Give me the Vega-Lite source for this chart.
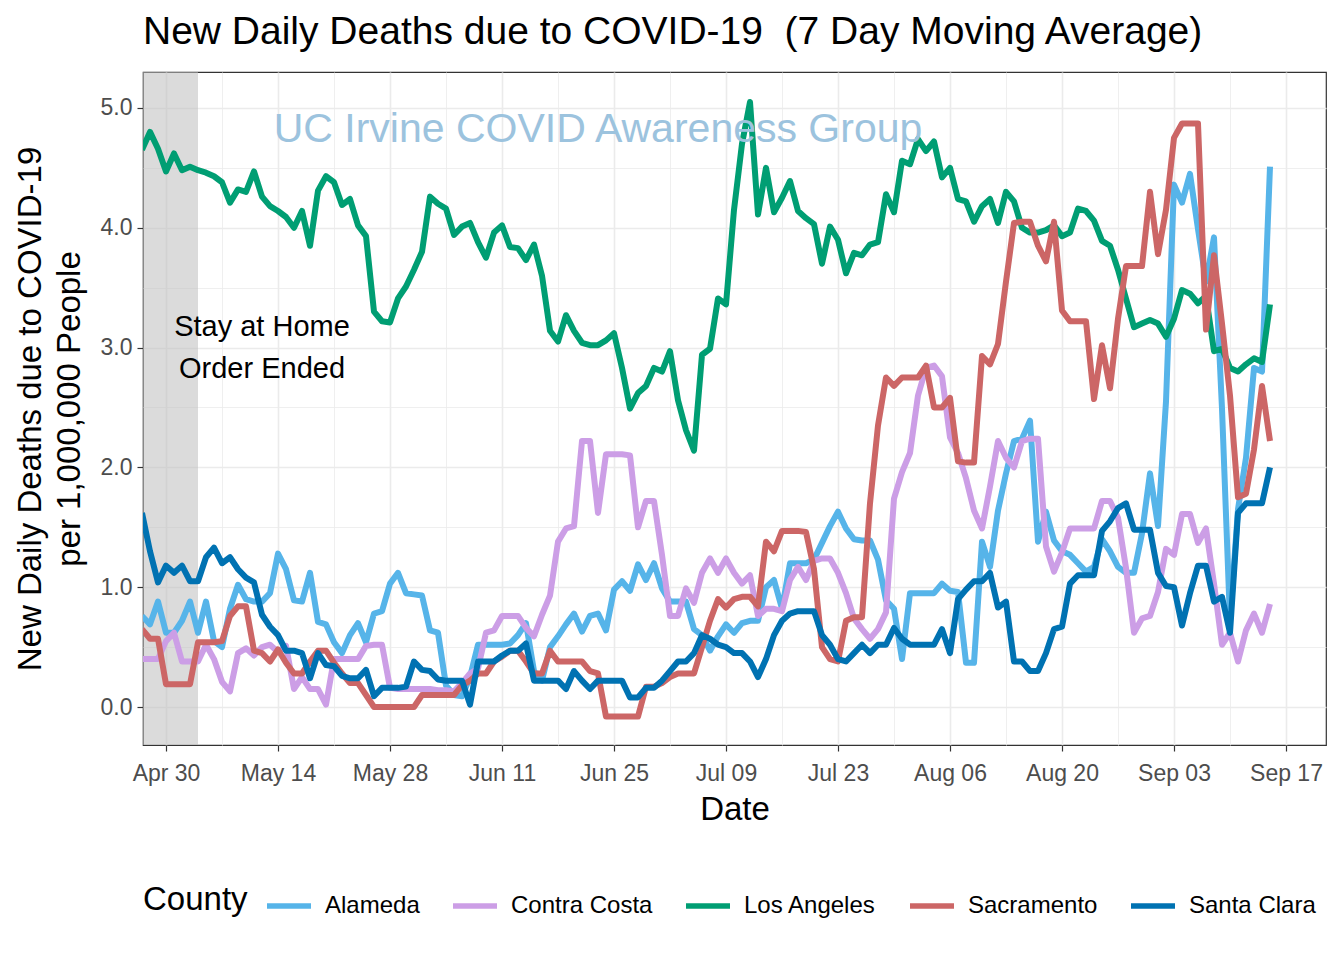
{
"$schema":"https://vega.github.io/schema/vega-lite/v6.json",
"autosize":"none",
"width":1183,"height":673,
"padding":{"left":143,"top":72,"right":18,"bottom":215},
"background":"#ffffff",
"title":{"text":"New Daily Deaths due to COVID-19 \u00a0(7 Day Moving Average)","anchor":"start","frame":"group","fontSize":39,"fontWeight":"normal","font":"Liberation Sans","color":"#000000","offset":20},
"datasets":{"series":[
{"d":"2020-04-27","Alameda":0.76,"Contra Costa":0.40,"Los Angeles":4.65,"Sacramento":0.65,"Santa Clara":1.62},
{"d":"2020-04-28","Alameda":0.69,"Contra Costa":0.40,"Los Angeles":4.80,"Sacramento":0.57,"Santa Clara":1.30},
{"d":"2020-04-29","Alameda":0.88,"Contra Costa":0.40,"Los Angeles":4.66,"Sacramento":0.57,"Santa Clara":1.04},
{"d":"2020-04-30","Alameda":0.62,"Contra Costa":0.55,"Los Angeles":4.47,"Sacramento":0.19,"Santa Clara":1.18},
{"d":"2020-05-01","Alameda":0.62,"Contra Costa":0.62,"Los Angeles":4.62,"Sacramento":0.19,"Santa Clara":1.12},
{"d":"2020-05-02","Alameda":0.72,"Contra Costa":0.38,"Los Angeles":4.48,"Sacramento":0.19,"Santa Clara":1.18},
{"d":"2020-05-03","Alameda":0.88,"Contra Costa":0.38,"Los Angeles":4.51,"Sacramento":0.19,"Santa Clara":1.05},
{"d":"2020-05-04","Alameda":0.62,"Contra Costa":0.38,"Los Angeles":4.48,"Sacramento":0.54,"Santa Clara":1.05},
{"d":"2020-05-05","Alameda":0.88,"Contra Costa":0.52,"Los Angeles":4.46,"Sacramento":0.54,"Santa Clara":1.25},
{"d":"2020-05-06","Alameda":0.55,"Contra Costa":0.40,"Los Angeles":4.43,"Sacramento":0.54,"Santa Clara":1.33},
{"d":"2020-05-07","Alameda":0.50,"Contra Costa":0.21,"Los Angeles":4.38,"Sacramento":0.55,"Santa Clara":1.20},
{"d":"2020-05-08","Alameda":0.82,"Contra Costa":0.13,"Los Angeles":4.21,"Sacramento":0.76,"Santa Clara":1.25},
{"d":"2020-05-09","Alameda":1.02,"Contra Costa":0.45,"Los Angeles":4.32,"Sacramento":0.84,"Santa Clara":1.15},
{"d":"2020-05-10","Alameda":0.90,"Contra Costa":0.49,"Los Angeles":4.30,"Sacramento":0.84,"Santa Clara":1.08},
{"d":"2020-05-11","Alameda":0.88,"Contra Costa":0.43,"Los Angeles":4.47,"Sacramento":0.47,"Santa Clara":1.04},
{"d":"2020-05-12","Alameda":0.88,"Contra Costa":0.50,"Los Angeles":4.26,"Sacramento":0.45,"Santa Clara":0.77},
{"d":"2020-05-13","Alameda":0.95,"Contra Costa":0.52,"Los Angeles":4.18,"Sacramento":0.38,"Santa Clara":0.67},
{"d":"2020-05-14","Alameda":1.28,"Contra Costa":0.46,"Los Angeles":4.14,"Sacramento":0.48,"Santa Clara":0.60},
{"d":"2020-05-15","Alameda":1.15,"Contra Costa":0.51,"Los Angeles":4.09,"Sacramento":0.37,"Santa Clara":0.47},
{"d":"2020-05-16","Alameda":0.89,"Contra Costa":0.15,"Los Angeles":4.00,"Sacramento":0.28,"Santa Clara":0.47},
{"d":"2020-05-17","Alameda":0.88,"Contra Costa":0.25,"Los Angeles":4.14,"Sacramento":0.28,"Santa Clara":0.45},
{"d":"2020-05-18","Alameda":1.12,"Contra Costa":0.15,"Los Angeles":3.85,"Sacramento":0.38,"Santa Clara":0.24},
{"d":"2020-05-19","Alameda":0.71,"Contra Costa":0.15,"Los Angeles":4.31,"Sacramento":0.47,"Santa Clara":0.45},
{"d":"2020-05-20","Alameda":0.69,"Contra Costa":0.02,"Los Angeles":4.43,"Sacramento":0.47,"Santa Clara":0.35},
{"d":"2020-05-21","Alameda":0.54,"Contra Costa":0.40,"Los Angeles":4.38,"Sacramento":0.37,"Santa Clara":0.34},
{"d":"2020-05-22","Alameda":0.45,"Contra Costa":0.40,"Los Angeles":4.19,"Sacramento":0.28,"Santa Clara":0.26},
{"d":"2020-05-23","Alameda":0.60,"Contra Costa":0.40,"Los Angeles":4.24,"Sacramento":0.20,"Santa Clara":0.24},
{"d":"2020-05-24","Alameda":0.70,"Contra Costa":0.40,"Los Angeles":4.02,"Sacramento":0.20,"Santa Clara":0.24},
{"d":"2020-05-25","Alameda":0.54,"Contra Costa":0.51,"Los Angeles":3.93,"Sacramento":0.10,"Santa Clara":0.31},
{"d":"2020-05-26","Alameda":0.78,"Contra Costa":0.52,"Los Angeles":3.30,"Sacramento":0.00,"Santa Clara":0.09},
{"d":"2020-05-27","Alameda":0.80,"Contra Costa":0.52,"Los Angeles":3.22,"Sacramento":0.00,"Santa Clara":0.16},
{"d":"2020-05-28","Alameda":1.03,"Contra Costa":0.16,"Los Angeles":3.21,"Sacramento":0.00,"Santa Clara":0.16},
{"d":"2020-05-29","Alameda":1.12,"Contra Costa":0.15,"Los Angeles":3.41,"Sacramento":0.00,"Santa Clara":0.16},
{"d":"2020-05-30","Alameda":0.95,"Contra Costa":0.15,"Los Angeles":3.51,"Sacramento":0.00,"Santa Clara":0.17},
{"d":"2020-05-31","Alameda":0.94,"Contra Costa":0.15,"Los Angeles":3.65,"Sacramento":0.00,"Santa Clara":0.38},
{"d":"2020-06-01","Alameda":0.93,"Contra Costa":0.15,"Los Angeles":3.80,"Sacramento":0.10,"Santa Clara":0.31},
{"d":"2020-06-02","Alameda":0.64,"Contra Costa":0.15,"Los Angeles":4.26,"Sacramento":0.10,"Santa Clara":0.30},
{"d":"2020-06-03","Alameda":0.62,"Contra Costa":0.14,"Los Angeles":4.20,"Sacramento":0.10,"Santa Clara":0.23},
{"d":"2020-06-04","Alameda":0.18,"Contra Costa":0.14,"Los Angeles":4.16,"Sacramento":0.10,"Santa Clara":0.22},
{"d":"2020-06-05","Alameda":0.10,"Contra Costa":0.13,"Los Angeles":3.94,"Sacramento":0.10,"Santa Clara":0.22},
{"d":"2020-06-06","Alameda":0.09,"Contra Costa":0.20,"Los Angeles":4.01,"Sacramento":0.18,"Santa Clara":0.22},
{"d":"2020-06-07","Alameda":0.25,"Contra Costa":0.28,"Los Angeles":4.04,"Sacramento":0.22,"Santa Clara":0.02},
{"d":"2020-06-08","Alameda":0.52,"Contra Costa":0.32,"Los Angeles":3.88,"Sacramento":0.28,"Santa Clara":0.38},
{"d":"2020-06-09","Alameda":0.52,"Contra Costa":0.62,"Los Angeles":3.75,"Sacramento":0.28,"Santa Clara":0.38},
{"d":"2020-06-10","Alameda":0.52,"Contra Costa":0.64,"Los Angeles":3.96,"Sacramento":0.38,"Santa Clara":0.38},
{"d":"2020-06-11","Alameda":0.52,"Contra Costa":0.76,"Los Angeles":4.02,"Sacramento":0.42,"Santa Clara":0.43},
{"d":"2020-06-12","Alameda":0.53,"Contra Costa":0.76,"Los Angeles":3.84,"Sacramento":0.47,"Santa Clara":0.47},
{"d":"2020-06-13","Alameda":0.60,"Contra Costa":0.76,"Los Angeles":3.83,"Sacramento":0.47,"Santa Clara":0.47},
{"d":"2020-06-14","Alameda":0.70,"Contra Costa":0.66,"Los Angeles":3.73,"Sacramento":0.38,"Santa Clara":0.53},
{"d":"2020-06-15","Alameda":0.30,"Contra Costa":0.59,"Los Angeles":3.86,"Sacramento":0.28,"Santa Clara":0.22},
{"d":"2020-06-16","Alameda":0.22,"Contra Costa":0.77,"Los Angeles":3.60,"Sacramento":0.28,"Santa Clara":0.22},
{"d":"2020-06-17","Alameda":0.50,"Contra Costa":0.93,"Los Angeles":3.14,"Sacramento":0.47,"Santa Clara":0.22},
{"d":"2020-06-18","Alameda":0.59,"Contra Costa":1.38,"Los Angeles":3.05,"Sacramento":0.38,"Santa Clara":0.22},
{"d":"2020-06-19","Alameda":0.69,"Contra Costa":1.49,"Los Angeles":3.27,"Sacramento":0.38,"Santa Clara":0.15},
{"d":"2020-06-20","Alameda":0.78,"Contra Costa":1.51,"Los Angeles":3.14,"Sacramento":0.38,"Santa Clara":0.30},
{"d":"2020-06-21","Alameda":0.63,"Contra Costa":2.22,"Los Angeles":3.04,"Sacramento":0.38,"Santa Clara":0.22},
{"d":"2020-06-22","Alameda":0.76,"Contra Costa":2.22,"Los Angeles":3.02,"Sacramento":0.30,"Santa Clara":0.15},
{"d":"2020-06-23","Alameda":0.78,"Contra Costa":1.62,"Los Angeles":3.02,"Sacramento":0.28,"Santa Clara":0.22},
{"d":"2020-06-24","Alameda":0.64,"Contra Costa":2.11,"Los Angeles":3.06,"Sacramento":-0.08,"Santa Clara":0.22},
{"d":"2020-06-25","Alameda":0.98,"Contra Costa":2.11,"Los Angeles":3.12,"Sacramento":-0.08,"Santa Clara":0.22},
{"d":"2020-06-26","Alameda":1.05,"Contra Costa":2.11,"Los Angeles":2.83,"Sacramento":-0.08,"Santa Clara":0.22},
{"d":"2020-06-27","Alameda":0.97,"Contra Costa":2.10,"Los Angeles":2.49,"Sacramento":-0.08,"Santa Clara":0.08},
{"d":"2020-06-28","Alameda":1.19,"Contra Costa":1.50,"Los Angeles":2.62,"Sacramento":-0.08,"Santa Clara":0.08},
{"d":"2020-06-29","Alameda":1.06,"Contra Costa":1.72,"Los Angeles":2.68,"Sacramento":0.17,"Santa Clara":0.16},
{"d":"2020-06-30","Alameda":1.20,"Contra Costa":1.72,"Los Angeles":2.83,"Sacramento":0.17,"Santa Clara":0.16},
{"d":"2020-07-01","Alameda":0.99,"Contra Costa":1.27,"Los Angeles":2.80,"Sacramento":0.20,"Santa Clara":0.22},
{"d":"2020-07-02","Alameda":0.88,"Contra Costa":0.76,"Los Angeles":2.97,"Sacramento":0.25,"Santa Clara":0.30},
{"d":"2020-07-03","Alameda":0.88,"Contra Costa":0.76,"Los Angeles":2.56,"Sacramento":0.28,"Santa Clara":0.38},
{"d":"2020-07-04","Alameda":0.88,"Contra Costa":0.99,"Los Angeles":2.31,"Sacramento":0.28,"Santa Clara":0.38},
{"d":"2020-07-05","Alameda":0.65,"Contra Costa":0.87,"Los Angeles":2.14,"Sacramento":0.28,"Santa Clara":0.45},
{"d":"2020-07-06","Alameda":0.60,"Contra Costa":1.12,"Los Angeles":2.94,"Sacramento":0.50,"Santa Clara":0.60},
{"d":"2020-07-07","Alameda":0.47,"Contra Costa":1.24,"Los Angeles":2.99,"Sacramento":0.72,"Santa Clara":0.57},
{"d":"2020-07-08","Alameda":0.59,"Contra Costa":1.12,"Los Angeles":3.41,"Sacramento":0.90,"Santa Clara":0.52},
{"d":"2020-07-09","Alameda":0.69,"Contra Costa":1.24,"Los Angeles":3.36,"Sacramento":0.83,"Santa Clara":0.50},
{"d":"2020-07-10","Alameda":0.62,"Contra Costa":1.12,"Los Angeles":4.15,"Sacramento":0.90,"Santa Clara":0.45},
{"d":"2020-07-11","Alameda":0.70,"Contra Costa":1.03,"Los Angeles":4.70,"Sacramento":0.92,"Santa Clara":0.45},
{"d":"2020-07-12","Alameda":0.72,"Contra Costa":1.10,"Los Angeles":5.05,"Sacramento":0.92,"Santa Clara":0.38},
{"d":"2020-07-13","Alameda":0.72,"Contra Costa":0.76,"Los Angeles":4.11,"Sacramento":0.84,"Santa Clara":0.25},
{"d":"2020-07-14","Alameda":1.00,"Contra Costa":0.82,"Los Angeles":4.50,"Sacramento":1.38,"Santa Clara":0.40},
{"d":"2020-07-15","Alameda":1.06,"Contra Costa":0.82,"Los Angeles":4.13,"Sacramento":1.30,"Santa Clara":0.60},
{"d":"2020-07-16","Alameda":0.82,"Contra Costa":0.80,"Los Angeles":4.25,"Sacramento":1.47,"Santa Clara":0.72},
{"d":"2020-07-17","Alameda":1.20,"Contra Costa":1.06,"Los Angeles":4.39,"Sacramento":1.47,"Santa Clara":0.78},
{"d":"2020-07-18","Alameda":1.20,"Contra Costa":1.17,"Los Angeles":4.14,"Sacramento":1.47,"Santa Clara":0.80},
{"d":"2020-07-19","Alameda":1.20,"Contra Costa":1.06,"Los Angeles":4.08,"Sacramento":1.46,"Santa Clara":0.80},
{"d":"2020-07-20","Alameda":1.23,"Contra Costa":1.22,"Los Angeles":4.03,"Sacramento":1.15,"Santa Clara":0.80},
{"d":"2020-07-21","Alameda":1.37,"Contra Costa":1.24,"Los Angeles":3.70,"Sacramento":0.50,"Santa Clara":0.60},
{"d":"2020-07-22","Alameda":1.51,"Contra Costa":1.24,"Los Angeles":4.01,"Sacramento":0.40,"Santa Clara":0.52},
{"d":"2020-07-23","Alameda":1.63,"Contra Costa":1.12,"Los Angeles":3.90,"Sacramento":0.38,"Santa Clara":0.40},
{"d":"2020-07-24","Alameda":1.49,"Contra Costa":0.95,"Los Angeles":3.62,"Sacramento":0.72,"Santa Clara":0.38},
{"d":"2020-07-25","Alameda":1.40,"Contra Costa":0.74,"Los Angeles":3.79,"Sacramento":0.75,"Santa Clara":0.45},
{"d":"2020-07-26","Alameda":1.39,"Contra Costa":0.65,"Los Angeles":3.77,"Sacramento":0.75,"Santa Clara":0.52},
{"d":"2020-07-27","Alameda":1.39,"Contra Costa":0.57,"Los Angeles":3.86,"Sacramento":1.70,"Santa Clara":0.45},
{"d":"2020-07-28","Alameda":1.23,"Contra Costa":0.65,"Los Angeles":3.88,"Sacramento":2.35,"Santa Clara":0.52},
{"d":"2020-07-29","Alameda":0.89,"Contra Costa":0.79,"Los Angeles":4.28,"Sacramento":2.75,"Santa Clara":0.52},
{"d":"2020-07-30","Alameda":0.82,"Contra Costa":1.74,"Los Angeles":4.13,"Sacramento":2.68,"Santa Clara":0.66},
{"d":"2020-07-31","Alameda":0.40,"Contra Costa":1.96,"Los Angeles":4.56,"Sacramento":2.75,"Santa Clara":0.57},
{"d":"2020-08-01","Alameda":0.95,"Contra Costa":2.12,"Los Angeles":4.53,"Sacramento":2.75,"Santa Clara":0.52},
{"d":"2020-08-02","Alameda":0.95,"Contra Costa":2.60,"Los Angeles":4.74,"Sacramento":2.75,"Santa Clara":0.52},
{"d":"2020-08-03","Alameda":0.95,"Contra Costa":2.83,"Los Angeles":4.64,"Sacramento":2.85,"Santa Clara":0.52},
{"d":"2020-08-04","Alameda":0.95,"Contra Costa":2.85,"Los Angeles":4.72,"Sacramento":2.50,"Santa Clara":0.52},
{"d":"2020-08-05","Alameda":1.03,"Contra Costa":2.76,"Los Angeles":4.42,"Sacramento":2.50,"Santa Clara":0.65},
{"d":"2020-08-06","Alameda":0.97,"Contra Costa":2.25,"Los Angeles":4.50,"Sacramento":2.58,"Santa Clara":0.45},
{"d":"2020-08-07","Alameda":0.96,"Contra Costa":2.12,"Los Angeles":4.24,"Sacramento":2.05,"Santa Clara":0.90},
{"d":"2020-08-08","Alameda":0.37,"Contra Costa":1.91,"Los Angeles":4.22,"Sacramento":2.04,"Santa Clara":0.98},
{"d":"2020-08-09","Alameda":0.37,"Contra Costa":1.64,"Los Angeles":4.05,"Sacramento":2.04,"Santa Clara":1.05},
{"d":"2020-08-10","Alameda":1.38,"Contra Costa":1.49,"Los Angeles":4.18,"Sacramento":2.93,"Santa Clara":1.05},
{"d":"2020-08-11","Alameda":1.17,"Contra Costa":1.84,"Los Angeles":4.24,"Sacramento":2.86,"Santa Clara":1.12},
{"d":"2020-08-12","Alameda":1.64,"Contra Costa":2.22,"Los Angeles":4.04,"Sacramento":3.03,"Santa Clara":0.83},
{"d":"2020-08-13","Alameda":1.95,"Contra Costa":2.08,"Los Angeles":4.30,"Sacramento":3.55,"Santa Clara":0.88},
{"d":"2020-08-14","Alameda":2.22,"Contra Costa":2.00,"Los Angeles":4.22,"Sacramento":4.04,"Santa Clara":0.38},
{"d":"2020-08-15","Alameda":2.24,"Contra Costa":2.22,"Los Angeles":4.00,"Sacramento":4.05,"Santa Clara":0.38},
{"d":"2020-08-16","Alameda":2.39,"Contra Costa":2.24,"Los Angeles":3.96,"Sacramento":4.05,"Santa Clara":0.30},
{"d":"2020-08-17","Alameda":1.38,"Contra Costa":2.24,"Los Angeles":3.96,"Sacramento":3.85,"Santa Clara":0.30},
{"d":"2020-08-18","Alameda":1.63,"Contra Costa":1.34,"Los Angeles":3.98,"Sacramento":3.72,"Santa Clara":0.45},
{"d":"2020-08-19","Alameda":1.39,"Contra Costa":1.13,"Los Angeles":4.02,"Sacramento":4.05,"Santa Clara":0.65},
{"d":"2020-08-20","Alameda":1.30,"Contra Costa":1.29,"Los Angeles":3.93,"Sacramento":3.31,"Santa Clara":0.67},
{"d":"2020-08-21","Alameda":1.27,"Contra Costa":1.49,"Los Angeles":3.96,"Sacramento":3.22,"Santa Clara":1.03},
{"d":"2020-08-22","Alameda":1.20,"Contra Costa":1.49,"Los Angeles":4.16,"Sacramento":3.22,"Santa Clara":1.10},
{"d":"2020-08-23","Alameda":1.13,"Contra Costa":1.49,"Los Angeles":4.14,"Sacramento":3.22,"Santa Clara":1.10},
{"d":"2020-08-24","Alameda":1.17,"Contra Costa":1.49,"Los Angeles":4.06,"Sacramento":2.57,"Santa Clara":1.10},
{"d":"2020-08-25","Alameda":1.40,"Contra Costa":1.72,"Los Angeles":3.89,"Sacramento":3.02,"Santa Clara":1.47},
{"d":"2020-08-26","Alameda":1.30,"Contra Costa":1.72,"Los Angeles":3.85,"Sacramento":2.66,"Santa Clara":1.55},
{"d":"2020-08-27","Alameda":1.17,"Contra Costa":1.58,"Los Angeles":3.65,"Sacramento":3.24,"Santa Clara":1.66},
{"d":"2020-08-28","Alameda":1.12,"Contra Costa":1.16,"Los Angeles":3.41,"Sacramento":3.68,"Santa Clara":1.70},
{"d":"2020-08-29","Alameda":1.12,"Contra Costa":0.62,"Los Angeles":3.17,"Sacramento":3.68,"Santa Clara":1.48},
{"d":"2020-08-30","Alameda":1.45,"Contra Costa":0.74,"Los Angeles":3.20,"Sacramento":3.68,"Santa Clara":1.48},
{"d":"2020-08-31","Alameda":1.95,"Contra Costa":0.76,"Los Angeles":3.23,"Sacramento":4.30,"Santa Clara":1.48},
{"d":"2020-09-01","Alameda":1.51,"Contra Costa":0.96,"Los Angeles":3.20,"Sacramento":3.78,"Santa Clara":1.12},
{"d":"2020-09-02","Alameda":2.55,"Contra Costa":1.32,"Los Angeles":3.09,"Sacramento":4.15,"Santa Clara":1.01},
{"d":"2020-09-03","Alameda":4.36,"Contra Costa":1.27,"Los Angeles":3.24,"Sacramento":4.75,"Santa Clara":1.00},
{"d":"2020-09-04","Alameda":4.21,"Contra Costa":1.61,"Los Angeles":3.48,"Sacramento":4.87,"Santa Clara":0.68},
{"d":"2020-09-05","Alameda":4.45,"Contra Costa":1.61,"Los Angeles":3.45,"Sacramento":4.87,"Santa Clara":0.95},
{"d":"2020-09-06","Alameda":3.99,"Contra Costa":1.37,"Los Angeles":3.37,"Sacramento":4.87,"Santa Clara":1.18},
{"d":"2020-09-07","Alameda":3.55,"Contra Costa":1.49,"Los Angeles":3.43,"Sacramento":3.15,"Santa Clara":1.18},
{"d":"2020-09-08","Alameda":3.92,"Contra Costa":1.03,"Los Angeles":2.97,"Sacramento":3.77,"Santa Clara":0.88},
{"d":"2020-09-09","Alameda":2.49,"Contra Costa":0.52,"Los Angeles":2.99,"Sacramento":3.20,"Santa Clara":0.92},
{"d":"2020-09-10","Alameda":0.72,"Contra Costa":0.62,"Los Angeles":2.83,"Sacramento":2.60,"Santa Clara":0.62},
{"d":"2020-09-11","Alameda":1.65,"Contra Costa":0.38,"Los Angeles":2.80,"Sacramento":1.75,"Santa Clara":1.62},
{"d":"2020-09-12","Alameda":2.08,"Contra Costa":0.64,"Los Angeles":2.86,"Sacramento":1.78,"Santa Clara":1.70},
{"d":"2020-09-13","Alameda":2.83,"Contra Costa":0.78,"Los Angeles":2.91,"Sacramento":2.15,"Santa Clara":1.70},
{"d":"2020-09-14","Alameda":2.80,"Contra Costa":0.62,"Los Angeles":2.88,"Sacramento":2.68,"Santa Clara":1.70},
{"d":"2020-09-15","Alameda":4.51,"Contra Costa":0.86,"Los Angeles":3.36,"Sacramento":2.22,"Santa Clara":2.00}
]},
"layer":[
{
"data":{"values":[{"start":"2020-04-20","end":"2020-05-04"}]},
"mark":{"type":"rect","color":"#BEBEBE","opacity":0.55,"clip":true},
"encoding":{
"x":{"field":"start","type":"temporal","scale":{"type":"utc","domain":[{"year":2020,"month":4,"date":27,"hours":3,"utc":true},{"year":2020,"month":9,"date":22,"utc":true}]},
"axis":{"orient":"bottom","values":[{"year":2020,"month":5,"date":7,"utc":true},{"year":2020,"month":5,"date":21,"utc":true},{"year":2020,"month":6,"date":4,"utc":true},{"year":2020,"month":6,"date":18,"utc":true},{"year":2020,"month":7,"date":2,"utc":true},{"year":2020,"month":7,"date":16,"utc":true},{"year":2020,"month":7,"date":30,"utc":true},{"year":2020,"month":8,"date":13,"utc":true},{"year":2020,"month":8,"date":27,"utc":true},{"year":2020,"month":9,"date":10,"utc":true}],"labels":false,"ticks":false,"domain":false,"title":null,"grid":true,"gridColor":"#EBEBEB","gridWidth":0.8}},
"x2":{"field":"end"},
"y":{"datum":-2,"type":"quantitative","scale":{"domain":[-0.317,5.3],"nice":false,"zero":false},
"axis":{"orient":"left","values":[0.5,1.5,2.5,3.5,4.5],"labels":false,"ticks":false,"domain":false,"title":null,"grid":true,"gridColor":"#EBEBEB","gridWidth":0.8}},
"y2":{"datum":8}
}
},
{
"data":{"name":"series"},
"transform":[{"fold":["Alameda","Contra Costa","Los Angeles","Sacramento","Santa Clara"],"as":["County","v"]}],
"mark":{"type":"line","strokeWidth":6,"strokeJoin":"round","strokeCap":"butt","clip":true},
"encoding":{
"x":{"field":"d","type":"temporal","scale":{"type":"utc","domain":[{"year":2020,"month":4,"date":27,"hours":3,"utc":true},{"year":2020,"month":9,"date":22,"utc":true}]},
"axis":{"orient":"bottom","title":"Date","format":"%b %d","values":[{"year":2020,"month":4,"date":30,"utc":true},{"year":2020,"month":5,"date":14,"utc":true},{"year":2020,"month":5,"date":28,"utc":true},{"year":2020,"month":6,"date":11,"utc":true},{"year":2020,"month":6,"date":25,"utc":true},{"year":2020,"month":7,"date":9,"utc":true},{"year":2020,"month":7,"date":23,"utc":true},{"year":2020,"month":8,"date":6,"utc":true},{"year":2020,"month":8,"date":20,"utc":true},{"year":2020,"month":9,"date":3,"utc":true},{"year":2020,"month":9,"date":17,"utc":true}],"grid":true,"gridColor":"#EBEBEB","gridWidth":1.6,"labelPadding":11,"titlePadding":8}},
"y":{"field":"v","type":"quantitative","scale":{"domain":[-0.317,5.3],"nice":false,"zero":false},
"axis":{"orient":"left","title":["New Daily Deaths due to COVID-19","per 1,000,000 People"],"titleLineHeight":39,"values":[0,1,2,3,4,5],"format":".1f","grid":true,"gridColor":"#EBEBEB","gridWidth":1.6,"labelPadding":5,"titlePadding":14}},
"color":{"field":"County","type":"nominal","scale":{"domain":["Alameda","Contra Costa","Los Angeles","Sacramento","Santa Clara"],"range":["#56B4E9","#CC9EE6","#009E73","#CC6666","#0072B2"]},
"legend":{"orient":"none","legendX":0,"legendY":809,"direction":"horizontal","title":"County","titleOrient":"left"}}
}
},
{
"data":{"values":[{"x":"2020-05-12","y":3.17,"t":"Stay at Home"},{"x":"2020-05-12","y":2.82,"t":"Order Ended"}]},
"mark":{"type":"text","fontSize":29,"font":"Liberation Sans","color":"#000000","baseline":"middle","align":"center"},
"encoding":{
"x":{"field":"x","type":"temporal","scale":{"type":"utc","domain":[{"year":2020,"month":4,"date":27,"hours":3,"utc":true},{"year":2020,"month":9,"date":22,"utc":true}]},"axis":null},
"y":{"field":"y","type":"quantitative","scale":{"domain":[-0.317,5.3],"nice":false,"zero":false},"axis":null},
"text":{"field":"t"}
}
},
{
"data":{"values":[{"x":"2020-06-23","y":4.82,"t":"UC Irvine COVID Awareness Group"}]},
"mark":{"type":"text","fontSize":41,"font":"Liberation Sans","color":"#9CC3DE","baseline":"middle","align":"center"},
"encoding":{
"x":{"field":"x","type":"temporal","scale":{"type":"utc","domain":[{"year":2020,"month":4,"date":27,"hours":3,"utc":true},{"year":2020,"month":9,"date":22,"utc":true}]},"axis":null},
"y":{"field":"y","type":"quantitative","scale":{"domain":[-0.317,5.3],"nice":false,"zero":false},"axis":null},
"text":{"field":"t"}
}
}
],
"resolve":{"axis":{"x":"independent","y":"independent"}},
"config":{
"font":"Liberation Sans",
"view":{"stroke":"#333333","strokeWidth":1.2},
"axis":{"labelFont":"Liberation Sans","labelFontSize":23,"labelColor":"#4D4D4D","tickColor":"#333333","tickSize":6,"tickWidth":1.2,"domain":false,"titleFont":"Liberation Sans","titleFontSize":33,"titleFontWeight":"normal","titleColor":"#000000"},
"legend":{"titleFont":"Liberation Sans","titleFontSize":33,"titleFontWeight":"normal","titleColor":"#000000","labelFont":"Liberation Sans","labelFontSize":24,"labelColor":"#000000","symbolType":"stroke","symbolSize":1936,"symbolStrokeWidth":5.5,"columnPadding":22,"labelOffset":11,"titlePadding":16,"titleBaseline":"middle"}
}
}
